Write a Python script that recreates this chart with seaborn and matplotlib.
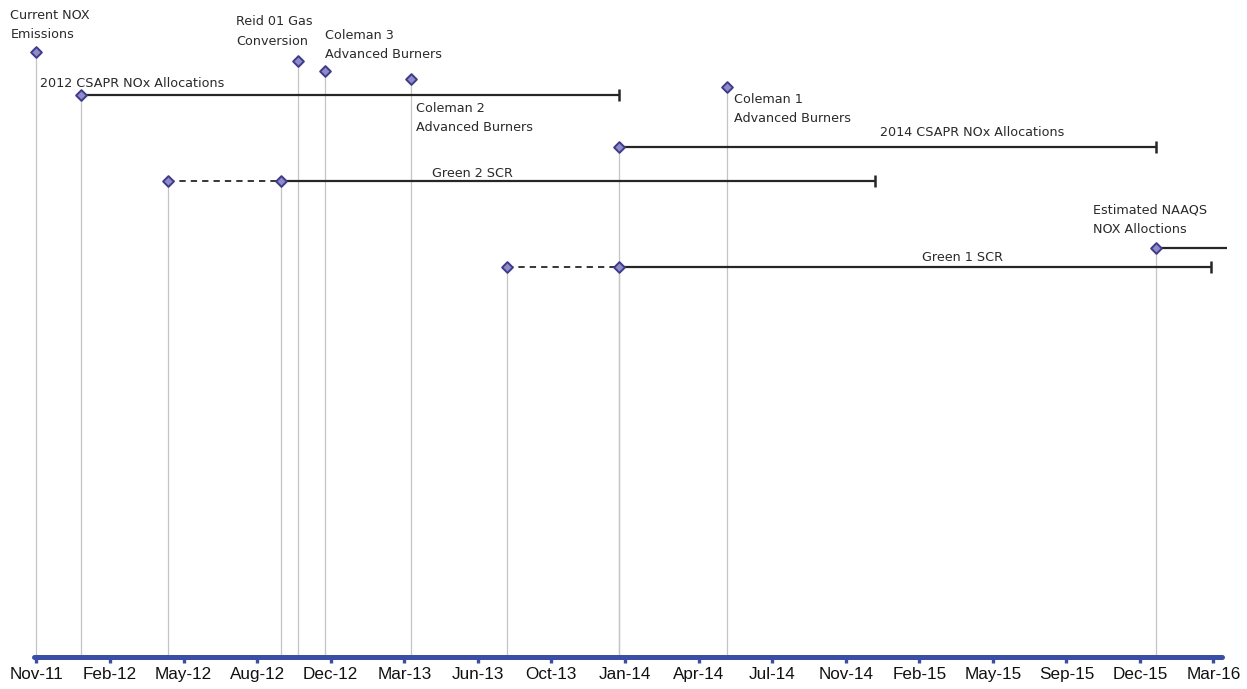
import matplotlib
matplotlib.use("Agg")
import matplotlib.pyplot as plt
import matplotlib.dates as mdates
import numpy as np
import pandas as pd
import seaborn as sns

# One-off milestones
milestone_labels = [
    "Current NOX\nEmissions",
    "Reid 01 Gas\nConversion",
    "Coleman 3\nAdvanced Burners",
    "Coleman 2\nAdvanced Burners",
    "Coleman 1\nAdvanced Burners",
]
milestone_dates = ["2011-11-01", "2012-10-22", "2012-11-27", "2013-03-24", "2014-05-28"]
milestone_levels = [96.5, 95.1, 93.5, 92.2, 90.9]

# Programs that run over a period (optional dashed lead-in before the start)
span_labels = [
    "2012 CSAPR NOx Allocations",
    "2014 CSAPR NOx Allocations",
    "Green 2 SCR",
    "Green 1 SCR",
    "Estimated NAAQS\nNOX Alloctions",
]
span_planned = [None, None, "2012-04-28", "2013-08-01", None]
span_starts = ["2012-01-01", "2014-01-01", "2012-09-28", "2014-01-01", "2016-01-01"]
span_ends = ["2014-01-01", "2016-01-01", "2014-12-15", "2016-03-15", "2016-04-06"]
span_open_ended = [False, False, False, False, True]
span_levels = [89.6, 81.3, 75.9, 62.2, 65.2]

# Time axis: ticks every 100 days from the first milestone
axis_start = "2011-11-01"
tick_step_days = 100
tick_count = 17

# Label placement, in pixels from the anchoring marker
milestone_label_offsets = [(-26, 27), (-62, 29), (0, 26), (5, -39), (7, -22)]
span_label_offsets = [(-41, 12), (261, 15), (151, 8), (303, 10), (-63, 28)]

AXIS_BLUE = "#3a4ea3"
MARK_FACE = "#8e8bc8"
MARK_EDGE = "#3f3b88"
BAR_COLOR = "#262626"
DROP_COLOR = "#c4c4c4"
TEXT_COLOR = "#2a2a2a"

sns.set_theme(style="white")
plt.rcParams["font.family"] = ["DejaVu Sans"]


def num(d):
    return mdates.date2num(pd.Timestamp(d))


fig = plt.figure(figsize=(12.47, 6.89), dpi=100)
ax = fig.add_axes([0.02691, 0.04644, 0.95268, 0.91001])
ax.set_facecolor("white")

x0 = num(axis_start)
ax.set_xlim(x0 - 4, x0 + 1611)
ax.set_ylim(0, 100)

# Collect every marker with its level so the stems can be drawn down to the axis
pts_x, pts_y = [], []
for d, lv in zip(milestone_dates, milestone_levels):
    pts_x.append(num(d))
    pts_y.append(lv)
for p, s, lv in zip(span_planned, span_starts, span_levels):
    if p is not None:
        pts_x.append(num(p))
        pts_y.append(lv)
    pts_x.append(num(s))
    pts_y.append(lv)

# Stems from each marker down to the time axis
ax.vlines(pts_x, 0, pts_y, color=DROP_COLOR, linewidth=0.9, zorder=1)

# Period bars
for p, s, e, lv, open_end in zip(span_planned, span_starts, span_ends,
                                   span_levels, span_open_ended):
    xs, xe = num(s), num(e)
    if p is not None:
        ax.plot([num(p), xs], [lv, lv], color=BAR_COLOR, linewidth=1.3,
                linestyle=(0, (3.5, 2.8)), zorder=2)
    ax.plot([xs, xe], [lv, lv], color=BAR_COLOR, linewidth=1.6,
            solid_capstyle="butt", zorder=2, clip_on=False)
    if not open_end:
        ax.plot([xe], [lv], marker="|", markersize=9, markeredgewidth=1.8,
                color=BAR_COLOR, zorder=2)

# Diamond markers
points = pd.DataFrame({"x": pts_x, "y": pts_y})
sns.scatterplot(data=points, x="x", y="y", marker="D", s=30, color=MARK_FACE,
                edgecolor=MARK_EDGE, linewidth=1.4, zorder=4, ax=ax,
                legend=False, clip_on=False)

# Labels
for lab, d, lv, (dx, dy) in zip(milestone_labels, milestone_dates,
                                milestone_levels, milestone_label_offsets):
    ax.annotate(lab, xy=(num(d), lv), xytext=(dx, dy),
                textcoords="offset pixels", ha="left", va="center",
                fontsize=9.2, color=TEXT_COLOR, linespacing=1.65,
                annotation_clip=False)
for lab, s, lv, (dx, dy) in zip(span_labels, span_starts, span_levels,
                                span_label_offsets):
    ax.annotate(lab, xy=(num(s), lv), xytext=(dx, dy),
                textcoords="offset pixels", ha="left", va="center",
                fontsize=9.2, color=TEXT_COLOR, linespacing=1.65,
                annotation_clip=False)

# Time axis styling
tick_dates = pd.date_range(axis_start, periods=tick_count,
                           freq=f"{tick_step_days}D")
ax.set_xticks([mdates.date2num(t) for t in tick_dates])
ax.set_xticklabels([t.strftime("%b-%y") for t in tick_dates],
                   fontfamily="Liberation Sans", fontsize=12.3, color="#111111")
ax.set_yticks([])
ax.set_xlabel("")
ax.set_ylabel("")
for side in ("top", "left", "right"):
    ax.spines[side].set_visible(False)
ax.spines["bottom"].set_color(AXIS_BLUE)
ax.spines["bottom"].set_linewidth(3.6)
ax.spines["bottom"].set_capstyle("round")
ax.tick_params(axis="x", bottom=True, direction="out", length=4.5, width=2.4,
               color=AXIS_BLUE, pad=2.5)
ax.grid(False)

fig.savefig("out.png", dpi=100, facecolor="white")
